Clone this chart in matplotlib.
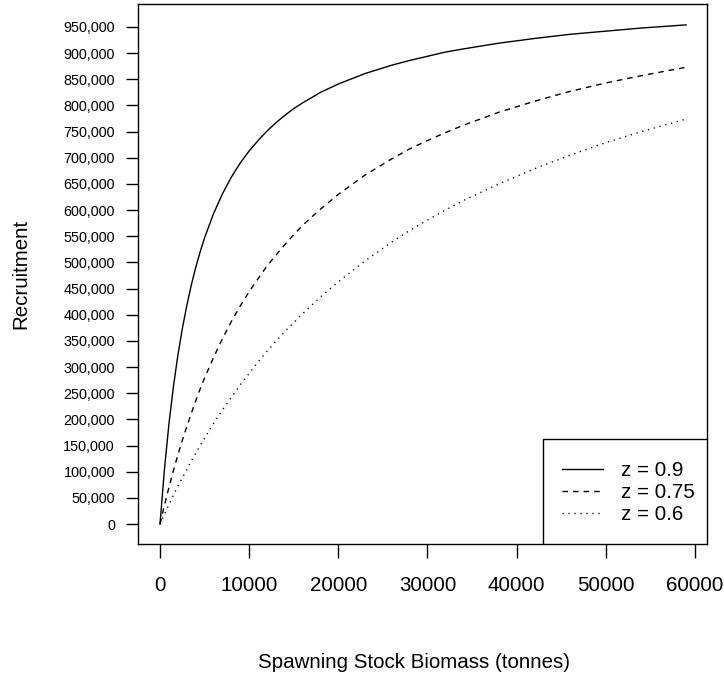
import matplotlib
matplotlib.use("Agg")
import matplotlib.pyplot as plt
from matplotlib.ticker import FuncFormatter
from matplotlib.patches import Rectangle

# Spawning stock biomass (tonnes)
ssb = [0, 500, 1000, 1500, 2000, 2500, 3000, 3500, 4000, 4500, 5000, 6000,
       7000, 8000, 9000, 10000, 11000, 12000, 13000, 14000, 15000, 16000,
       18000, 20000, 23000, 26000, 28000, 30000, 32000, 34000, 38000, 42000,
       46000, 50000, 54000, 59000]

# Recruitment for each steepness z
rec_z090 = [0, 105000, 191000, 262000, 322000, 373000, 417000, 456000, 490000,
            520000, 547000, 593000, 631000, 663000, 690000, 713000, 733000,
            751000, 767000, 781000, 794000, 805000, 825000, 841000, 861000,
            877000, 886000, 894000, 902000, 908000, 919000, 928000, 936000,
            942000, 948000, 954000]
rec_z075 = [0, 36000, 70000, 102000, 132000, 160000, 186000, 211000, 235000,
            258000, 279000, 318000, 354000, 387000, 417000, 444000, 469000,
            493000, 514000, 534000, 553000, 571000, 602000, 630000, 667000,
            698000, 717000, 733000, 748000, 762000, 787000, 808000, 827000,
            843000, 857000, 873000]
rec_z060 = [0, 19000, 37000, 55000, 72000, 88000, 104000, 120000, 135000,
            150000, 164000, 192000, 218000, 242000, 266000, 288000, 310000,
            330000, 349000, 368000, 385000, 402000, 434000, 463000, 503000,
            539000, 561000, 581000, 600000, 618000, 650000, 679000, 705000,
            729000, 750000, 774000]

legend_labels = ["z = 0.9", "z = 0.75", "z = 0.6"]
x_ticks = [0, 10000, 20000, 30000, 40000, 50000, 60000]
y_ticks = list(range(0, 950001, 50000))

plt.rcParams['font.family'] = ['Liberation Sans', 'DejaVu Sans']

W, H = 724, 676
fig = plt.figure(figsize=(W / 100, H / 100), dpi=100)
L, R, T, B = 138, 707, 4, 544
ax = fig.add_axes([L / W, 1 - B / H, (R - L) / W, (B - T) / H])

lw = 1.0
ax.plot(ssb, rec_z090, color='black', lw=lw, linestyle='-', label=legend_labels[0])
ax.plot(ssb, rec_z075, color='black', lw=lw, linestyle=(0, (4, 3.6)), label=legend_labels[1])
ax.plot(ssb, rec_z060, color='black', lw=lw, linestyle=(0, (0.9, 3.4)), label=legend_labels[2])

ax.set_xlim(-2467, 61346)
ax.set_ylim(-38200, 993900)
ax.set_xticks(x_ticks)
ax.set_yticks(y_ticks)
ax.xaxis.set_major_formatter(FuncFormatter(lambda v, p: f"{v:.0f}"))
ax.yaxis.set_major_formatter(FuncFormatter(lambda v, p: f"{v:,.0f}"))
ax.tick_params(axis='x', direction='out', length=10, width=1, labelsize=14.8, pad=13)
ax.tick_params(axis='y', direction='out', length=8.6, width=1, labelsize=10.4, pad=8)
for s in ax.spines.values():
    s.set_linewidth(1)

# legend box (R style, anchored at the lower-right corner)
x0 = (542.7 - L) / (R - L)
h = (B - 439.3) / (B - T)
ax.add_patch(Rectangle((x0, 0), 1 - x0, h, transform=ax.transAxes,
                       facecolor='white', edgecolor='black', lw=1, zorder=5))
leg = ax.legend(loc='center left', bbox_to_anchor=((561.7 - L) / (R - L), (B - 492.7) / (B - T)),
                frameon=False, fontsize=14.8, handlelength=2.0, handletextpad=0.9,
                labelspacing=0.15, borderpad=0, borderaxespad=0)
leg.set_zorder(6)

fig.text(414 / W, 1 - 663 / H, "Spawning Stock Biomass (tonnes)", ha='center', va='center', fontsize=14.8)
fig.text(21 / W, 1 - 274 / H, "Recruitment", ha='center', va='center', rotation=90, fontsize=14.8)

fig.savefig("out.png", dpi=100)
